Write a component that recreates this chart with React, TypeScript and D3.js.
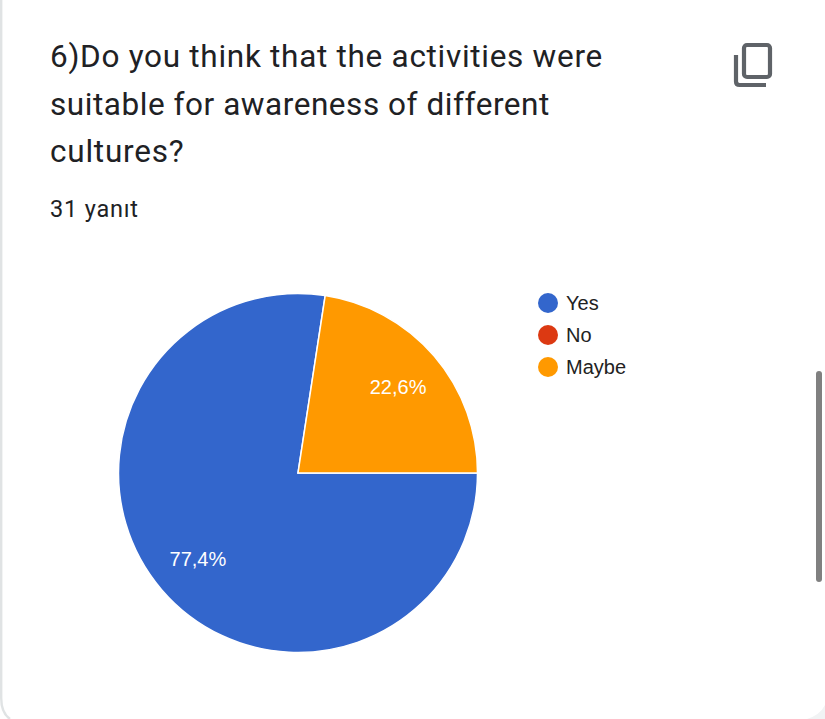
import React from "react";
import { arc, pie } from "d3";

const categories = ["Yes", "No", "Maybe"];
const responses = [24, 0, 7];
const sliceLabels = ["77,4%", "", "22,6%"];
const colors = ["#3366cc", "#dc3912", "#ff9900"];
const titleLines = [
  "6)Do you think that the activities were",
  "suitable for awareness of different",
  "cultures?",
];
const titleSpacing = [0.71, 0.55, 0.78];
const subtitle = "31 yanıt";

const width = 825;
const height = 719;
const radius = 179.5;
const cx = 298;
const cy = 473;

export default function App() {
  const slices = pie<number>()
    .sort(null)
    .startAngle(Math.PI / 2)
    .endAngle(Math.PI / 2 + Math.PI * 2)(responses);

  const sliceArc = arc<any>().innerRadius(0).outerRadius(radius);
  const labelArc = arc<any>().innerRadius(radius * 0.735).outerRadius(radius * 0.735);

  return (
    <svg
      width={width}
      height={height}
      style={{ position: "absolute", left: 0, top: 0, display: "block" }}
    >
      <rect width={width} height={height} fill="#ffffff" />
      {/* card edge: left side, curving in at the bottom */}
      <path
        d={`M1.2,0 V698 Q1.2,713 10,${height}`}
        fill="none"
        stroke="#e0e3e4"
        strokeWidth={2.4}
      />
      <path d={`M${width},705 Q${width - 5},715 ${width - 18},${height} H${width} Z`} fill="#f1f3f4" />

      {titleLines.map((line, i) => (
        <text
          key={i}
          x={50}
          y={67 + i * 47.5}
          fontFamily="Roboto, sans-serif"
          fontSize={31.5}
          letterSpacing={titleSpacing[i]}
          fill="#202124"
        >
          {line}
        </text>
      ))}
      <text
        x={50}
        y={217}
        fontFamily="Roboto, sans-serif"
        fontSize={23.5}
        letterSpacing={0.8}
        fill="#202124"
      >
        {subtitle}
      </text>

      {/* copy icon */}
      <g fill="none" stroke="#5f6368" strokeWidth={4.2}>
        <rect x={744} y={45} width={26} height={32} rx={3} />
        <path d="M736,55 V81.5 Q736,85 739.5,85 H766" />
      </g>

      {slices.map((d, i) =>
        d.value > 0 ? (
          <path key={categories[i]} d={sliceArc(d) ?? ""} fill={colors[i]} stroke="#ffffff" strokeWidth={1.5} transform={`translate(${cx},${cy})`} />
        ) : null
      )}
      {slices.map((d, i) => {
        if (!sliceLabels[i]) return null;
        const [lx, ly] = labelArc.centroid(d);
        return (
          <text
            key={sliceLabels[i]}
            x={cx + lx}
            y={cy + ly}
            textAnchor="middle"
            dominantBaseline="central"
            fontFamily="Arial, 'Liberation Sans', sans-serif"
            fontSize={20}
            fill="#ffffff"
          >
            {sliceLabels[i]}
          </text>
        );
      })}

      {categories.map((c, i) => (
        <g key={c} transform={`translate(548,${303 + i * 32})`}>
          <circle r={10} fill={colors[i]} />
          <text
            x={18}
            y={7}
            fontFamily="Arial, 'Liberation Sans', sans-serif"
            fontSize={20}
            fill="#222222"
          >
            {c}
          </text>
        </g>
      ))}

      {/* scrollbar */}
      <rect x={816} y={371} width={6} height={211} rx={3} fill="#808080" />
    </svg>
  );
}
